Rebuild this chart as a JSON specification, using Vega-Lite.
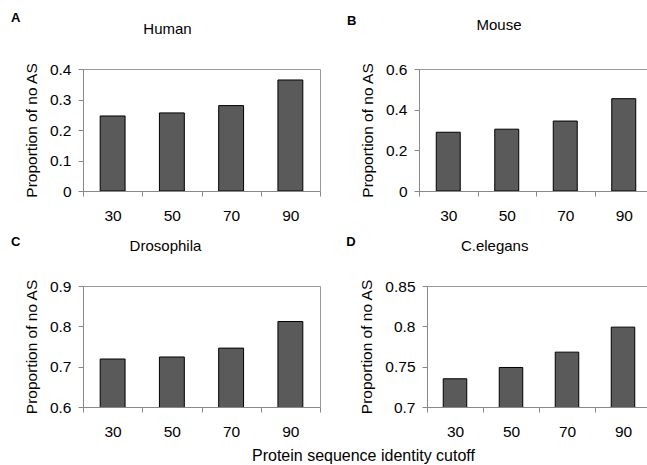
{
  "$schema": "https://vega.github.io/schema/vega-lite/v6.json",
  "padding": {"left": 10, "top": 11, "right": 0, "bottom": 0},
  "background": "white",
  "data": {"values": [
    {"species": "Human", "cutoff": "30", "value": 0.246},
    {"species": "Human", "cutoff": "50", "value": 0.256},
    {"species": "Human", "cutoff": "70", "value": 0.280},
    {"species": "Human", "cutoff": "90", "value": 0.364},
    {"species": "Mouse", "cutoff": "30", "value": 0.289},
    {"species": "Mouse", "cutoff": "50", "value": 0.304},
    {"species": "Mouse", "cutoff": "70", "value": 0.344},
    {"species": "Mouse", "cutoff": "90", "value": 0.454},
    {"species": "Drosophila", "cutoff": "30", "value": 0.719},
    {"species": "Drosophila", "cutoff": "50", "value": 0.724},
    {"species": "Drosophila", "cutoff": "70", "value": 0.746},
    {"species": "Drosophila", "cutoff": "90", "value": 0.812},
    {"species": "C.elegans", "cutoff": "30", "value": 0.735},
    {"species": "C.elegans", "cutoff": "50", "value": 0.749},
    {"species": "C.elegans", "cutoff": "70", "value": 0.768},
    {"species": "C.elegans", "cutoff": "90", "value": 0.799}
  ]},
  "title": {"text": "Protein sequence identity cutoff", "orient": "bottom", "anchor": "middle", "frame": "bounds", "fontSize": 16, "fontWeight": "normal", "font": "Liberation Sans", "color": "black", "offset": 8, "dx": 31},
  "spacing": 11,
  "vconcat": [
    {
      "spacing": 25,
      "hconcat": [
        {
          "title": {"text": "A", "anchor": "start", "frame": "bounds", "fontSize": 13, "fontWeight": "bold", "font": "Liberation Sans", "color": "black", "dx": -13, "offset": -3},
          "vconcat": [{
            "title": {"text": "Human", "anchor": "middle", "frame": "bounds", "fontSize": 15, "fontWeight": "normal", "font": "Liberation Sans", "color": "black", "offset": 25, "dx": -5},
            "width": 237, "height": 122,
            "transform": [{"filter": "datum.species === 'Human'"}],
            "mark": {"type": "bar", "fill": "#5a5a5a", "stroke": "black", "strokeWidth": 1, "width": {"band": 0.42}, "clip": true},
            "encoding": {
              "x": {"field": "cutoff", "type": "ordinal", "title": null, "scale": {"paddingInner": 0, "paddingOuter": 0}},
              "y": {"field": "value", "type": "quantitative", "title": "Proportion of no AS", "scale": {"domain": [0, 0.4], "nice": false}, "axis": {"values": [0, 0.1, 0.2, 0.3, 0.4], "format": "~g"}}
            }
          }]
        },
        {
          "title": {"text": "B", "anchor": "start", "frame": "bounds", "fontSize": 13, "fontWeight": "bold", "font": "Liberation Sans", "color": "black", "dx": -13, "offset": -10},
          "vconcat": [{
            "title": {"text": "Mouse", "anchor": "middle", "frame": "bounds", "fontSize": 15, "fontWeight": "normal", "font": "Liberation Sans", "color": "black", "offset": 29, "dx": -8},
            "width": 234, "height": 122,
            "transform": [{"filter": "datum.species === 'Mouse'"}],
            "mark": {"type": "bar", "fill": "#5a5a5a", "stroke": "black", "strokeWidth": 1, "width": {"band": 0.41}, "clip": true},
            "encoding": {
              "x": {"field": "cutoff", "type": "ordinal", "title": null, "scale": {"paddingInner": 0, "paddingOuter": 0}},
              "y": {"field": "value", "type": "quantitative", "title": "Proportion of no AS", "scale": {"domain": [0, 0.6], "nice": false}, "axis": {"values": [0, 0.2, 0.4, 0.6], "format": "~g"}}
            }
          }]
        }
      ]
    },
    {
      "spacing": 25,
      "hconcat": [
        {
          "title": {"text": "C", "anchor": "start", "frame": "bounds", "fontSize": 13, "fontWeight": "bold", "font": "Liberation Sans", "color": "black", "dx": -13, "offset": -10},
          "vconcat": [{
            "title": {"text": "Drosophila", "anchor": "middle", "frame": "bounds", "fontSize": 15, "fontWeight": "normal", "font": "Liberation Sans", "color": "black", "offset": 24.5, "dx": -7},
            "width": 237, "height": 121,
            "transform": [{"filter": "datum.species === 'Drosophila'"}],
            "mark": {"type": "bar", "fill": "#5a5a5a", "stroke": "black", "strokeWidth": 1, "width": {"band": 0.42}, "clip": true},
            "encoding": {
              "x": {"field": "cutoff", "type": "ordinal", "title": null, "scale": {"paddingInner": 0, "paddingOuter": 0}},
              "y": {"field": "value", "type": "quantitative", "title": "Proportion of no AS", "scale": {"domain": [0.6, 0.9], "nice": false, "zero": false}, "axis": {"values": [0.6, 0.7, 0.8, 0.9], "format": "~g"}}
            }
          }]
        },
        {
          "title": {"text": "D", "anchor": "start", "frame": "bounds", "fontSize": 13, "fontWeight": "bold", "font": "Liberation Sans", "color": "black", "dx": -13, "offset": -10},
          "vconcat": [{
            "title": {"text": "C.elegans", "anchor": "middle", "frame": "bounds", "fontSize": 15, "fontWeight": "normal", "font": "Liberation Sans", "color": "black", "offset": 24.5, "dx": -11},
            "width": 224, "height": 121,
            "transform": [{"filter": "datum.species === 'C.elegans'"}],
            "mark": {"type": "bar", "fill": "#5a5a5a", "stroke": "black", "strokeWidth": 1, "width": {"band": 0.42}, "clip": true},
            "encoding": {
              "x": {"field": "cutoff", "type": "ordinal", "title": null, "scale": {"paddingInner": 0, "paddingOuter": 0}},
              "y": {"field": "value", "type": "quantitative", "title": "Proportion of no AS", "scale": {"domain": [0.7, 0.85], "nice": false, "zero": false}, "axis": {"values": [0.7, 0.75, 0.8, 0.85], "format": "~g"}}
            }
          }]
        }
      ]
    }
  ],
  "config": {
    "font": "Liberation Sans",
    "view": {"stroke": "#999999", "strokeWidth": 1},
    "axis": {
      "domainColor": "#888888", "tickColor": "#888888", "grid": false,
      "labelFont": "Liberation Sans", "labelFontSize": 15.5, "labelColor": "black",
      "titleFont": "Liberation Sans", "titleFontSize": 15.5, "titleFontWeight": "normal", "titleColor": "black",
      "tickSize": 5
    },
    "axisX": {"tickBand": "extent", "labelAngle": 0, "labelPadding": 12},
    "axisY": {"labelPadding": 7, "titlePadding": 10}
  }
}
